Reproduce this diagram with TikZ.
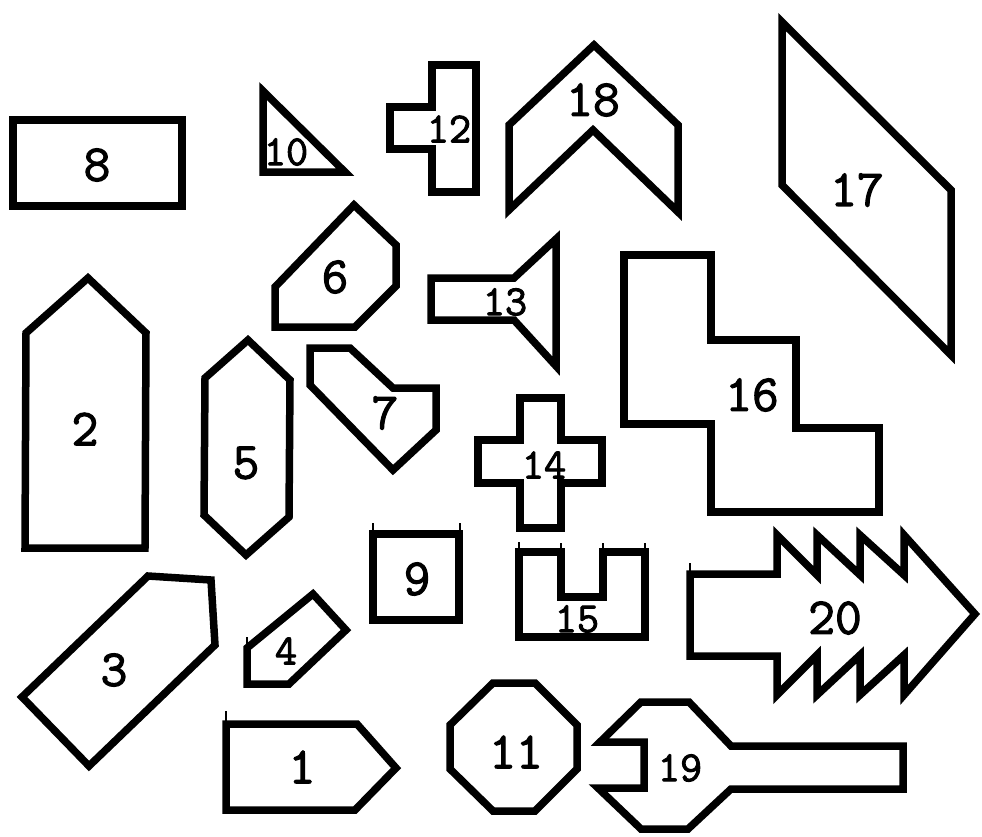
\documentclass[tikz,border=0pt]{standalone}
\usepackage{fontspec}
\newfontfamily\digfont{Latin Modern Mono}[FakeBold=2.2]
\begin{document}
\begin{tikzpicture}[x=1pt,y=-1pt,
  piece/.style={draw=black, line width=7.5pt, line join=miter, miter limit=10},
  tick/.style={draw=black, line width=1.6pt},
  lbl/.style={inner sep=0pt, font=\fontsize{52}{52}\selectfont\digfont},
  slbl/.style={inner sep=0pt, font=\fontsize{43}{43}\selectfont\digfont}]
\useasboundingbox (0,0) rectangle (982,836);
\fill[white] (0,0) rectangle (982,836);

% 8
\draw[piece] (13,120) rectangle (182,206);
\node[lbl] (l8) at (97,165) {8};
% 10
\draw[piece] (263,91) -- (263,172) -- (345,172) -- cycle;
\node[slbl] (l10) at (286,152) {10};
% 12
\draw[piece] (432,65) -- (476,65) -- (476,192) -- (432,192) -- (432,149) -- (390,149) -- (390,107) -- (432,107) -- cycle;
\node[slbl] (l12) at (449,129) {12};
% 6
\draw[piece] (354,205) -- (396,245) -- (396,286) -- (355,327) -- (275,327) -- (275,287) -- cycle;
\node[lbl] (l6) at (335,277) {6};
% 2
\draw[piece] (88,278) -- (146,333) -- (145,548) -- (25,548) -- (26,333) -- cycle;
\node[lbl] (l2) at (85,429) {2};
% 5
\draw[piece] (248,340) -- (290,380) -- (289,517) -- (246,555) -- (204,515) -- (205,378) -- cycle;
\node[lbl] (l5) at (246,463) {5};
% 7
\draw[piece] (310,348) -- (350,348) -- (393,388) -- (436,388) -- (436,430) -- (393,470) -- (310,385) -- cycle;
\node[lbl] (l7) at (385,413) {7};
% 13
\draw[piece] (431,278) -- (514,278) -- (556,239) -- (556,366) -- (514,320) -- (431,320) -- cycle;
\node[slbl] (l13) at (505,302) {13};
% 14
\draw[piece] (520,398) -- (561,398) -- (561,440) -- (602,440) -- (602,483) -- (561,483) -- (561,528) -- (520,528) -- (520,483) -- (478,483) -- (478,440) -- (520,440) -- cycle;
\node[slbl] (l14) at (544,465) {14};
% 16
\draw[piece] (624,255) -- (711,255) -- (711,340) -- (796,340) -- (796,428) -- (879,428) -- (879,512) -- (711,512) -- (711,424) -- (624,424) -- cycle;
\node[lbl] (l16) at (752,395) {16};
% 17
\draw[piece] (782,22) -- (951,190) -- (951,355) -- (782,185) -- cycle;
\node[lbl] (l17) at (857,190) {17};
% 18
\draw[piece] (594,45) -- (678,125) -- (678,212) -- (593,130) -- (509,210) -- (509,125) -- cycle;
\node[lbl] (l18) at (593,100) {18};
% 9
\draw[piece] (373,534) rectangle (459,620);
\draw[tick] (373,534) -- (373,523);
\draw[tick] (460,534) -- (460,523);
\node[lbl] (l9) at (417,579) {9};
% 15
\draw[piece] (519,552) -- (561,552) -- (561,597) -- (603,597) -- (603,552) -- (645,552) -- (645,637) -- (519,637) -- cycle;
\draw[tick] (519,552) -- (519,542);
\draw[tick] (561,552) -- (561,543);
\draw[tick] (603,552) -- (603,543);
\draw[tick] (645,552) -- (645,543);
\node[slbl] (l15) at (577,619) {15};
% 20
\draw[piece] (690,574) -- (777,574) -- (777,535) -- (817,575) -- (817,535) -- (860,575) -- (860,535) -- (904,575) -- (904,535) -- (975,614)
  -- (904,695) -- (904,655) -- (860,695) -- (860,655) -- (817,695) -- (817,655) -- (777,695) -- (777,656) -- (690,656) -- cycle;
\draw[tick] (690,574) -- (690,563);
\node[lbl] (l20) at (835,618) {20};
% 11
\draw[piece] (493,683) -- (535,683) -- (577,725) -- (577,769) -- (535,811) -- (493,811) -- (450,769) -- (450,725) -- cycle;
\node[lbl] (l11) at (516,752) {11};
% 19
\draw[piece] (641,702) -- (689,702) -- (731,746) -- (903,746) -- (903,789) -- (731,789) -- (688,829) -- (641,829) -- (598,788) -- (644,788) -- (644,742) -- (600,742) -- cycle;
\node[slbl] (l19) at (680,768) {19};
% 1
\draw[piece] (226,724) -- (357,724) -- (396,768) -- (355,810) -- (226,810) -- cycle;
\draw[tick] (226,724) -- (226,711);
\node[lbl] (l1) at (302,767) {1};
% 4
\draw[piece] (313,594) -- (346,630) -- (289,684) -- (247,684) -- (247,648) -- cycle;
\draw[tick] (247,648) -- (247,637);
\node[slbl] (l4) at (286,651) {4};
% 3
\draw[piece] (148,576) -- (211,580) -- (215,645) -- (89,766) -- (22,697) -- cycle;
\node[lbl] (l3) at (114,670) {3};
\end{tikzpicture}
\end{document}
